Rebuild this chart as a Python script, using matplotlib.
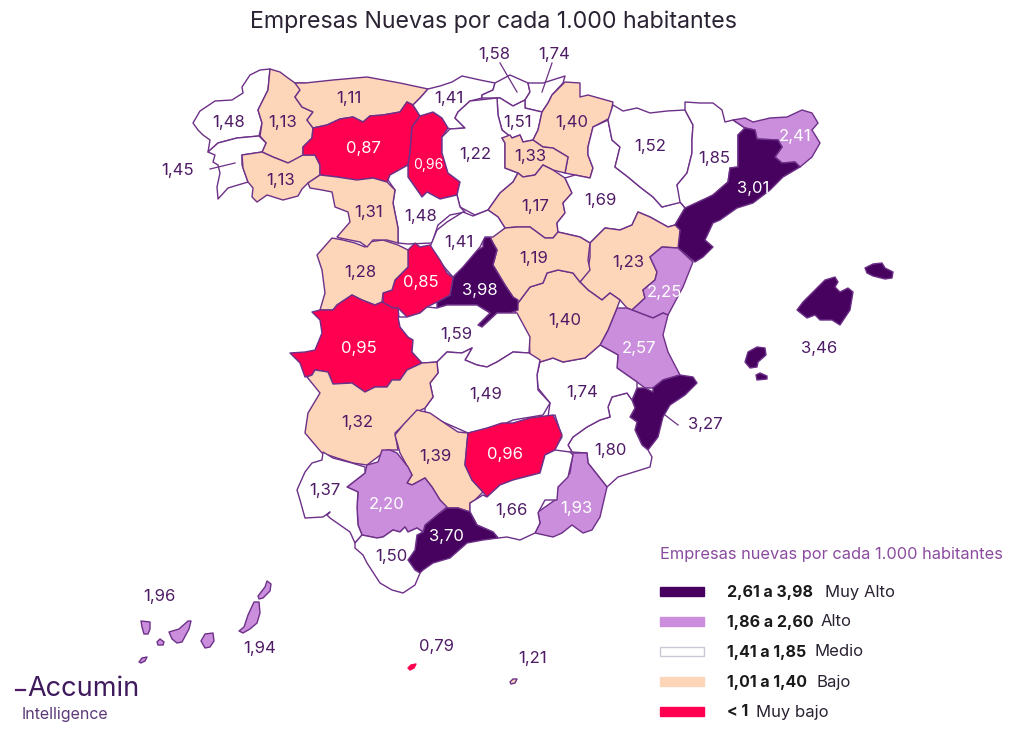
import matplotlib
matplotlib.use("Agg")
import matplotlib.pyplot as plt
from matplotlib.patches import Polygon, Rectangle

plt.rcParams["font.family"] = ["Inter", "DejaVu Sans"]

# Rates per province
provinces = ["Coruna", "Lugo", "Pontevedra", "Ourense", "Asturias", "Leon", "Palencia", "Cantabria",
             "Bizkaia", "Gipuzkoa", "Alava", "Navarra", "Burgos", "Rioja", "Soria", "Zaragoza",
             "Huesca", "Lleida", "Girona", "Barcelona", "Teruel", "Castellon", "Valencia", "Alicante",
             "Murcia", "Almeria", "Albacete", "Cuenca", "Guadalajara", "Madrid", "Valladolid", "Segovia",
             "Avila", "Salamanca", "Zamora", "Caceres", "Toledo", "CiudadReal", "Badajoz", "Cordoba",
             "Jaen", "Granada", "Malaga", "Sevilla", "Huelva", "Cadiz", "Baleares", "Tenerife",
             "LasPalmas", "Ceuta", "Melilla"]
values = [1.48, 1.13, 1.45, 1.13, 1.11, 0.87, 0.96, 1.41,
          1.58, 1.74, 1.51, 1.40, 1.22, 1.33, 1.17, 1.69,
          1.52, 1.85, 2.41, 3.01, 1.23, 2.25, 2.57, 3.27,
          1.80, 1.93, 1.74, 1.40, 1.19, 3.98, 1.48, 1.41,
          0.85, 1.28, 1.31, 0.95, 1.59, 1.49, 1.32, 1.39,
          0.96, 1.66, 3.70, 2.20, 1.37, 1.50, 3.46, 1.96,
          1.94, 0.79, 1.21]
label_x = [229, 283, 178, 281, 349, 363, 428, 449,
           494, 554, 518, 572, 475, 530, 535, 600,
           650, 714, 795, 753, 628, 664, 639, 705,
           610, 576, 582, 565, 534, 480, 421, 459,
           421, 360, 369, 359, 456, 486, 357, 435,
           505, 511, 446, 387, 325, 391, 819, 159,
           260, 437, 533]
label_y = [122, 122, 171, 180, 98, 148, 165, 98,
           54, 54, 122, 123, 155, 156, 206, 201,
           147, 159, 136, 188, 262, 293, 348, 425,
           450, 509, 392, 321, 258, 290, 216, 243,
           282, 273, 212, 348, 335, 394, 423, 457,
           455, 510, 537, 505, 490, 557, 348, 597,
           648, 647, 658]
# labels that sit off their shape stay dark
outside_labels = ["Pontevedra", "Bizkaia", "Gipuzkoa", "Alicante", "Baleares", "Tenerife", "LasPalmas",
                  "Ceuta", "Melilla"]
small_labels = ["Palencia"]
# drawn white in the reference although the rate falls in the Bajo range
white_overrides = ["Burgos", "Huelva"]

# Traced outlines, one list of rings per province
outlines = {
    "Coruna": [[(270,69),(260,70),(250,75),(242,87),(243,93),(232,100),(215,101),(200,111),(193,123),(198,130),(203,135),(210,140),(208,152),(218,143),(237,138),(259,136),(262,123),(258,110),(268,90)]],
    "Lugo": [[(270,69),(280,72),(288,78),(295,83),(305,83),(300,90),(295,97),(302,107),(313,112),(307,120),(313,128),(312,138),(303,147),(303,155),(295,160),(288,163),(273,157),(262,152),(266,143),(260,136),(262,123),(258,110),(268,90)]],
    "Pontevedra": [[(259,136),(237,138),(218,143),(208,152),(215,155),(213,162),(218,165),(220,173),(217,187),(218,199),(228,188),(248,182),(242,165),(242,155),(262,152),(266,143)]],
    "Ourense": [[(242,155),(262,152),(273,157),(288,163),(303,155),(315,155),(320,165),(320,175),(308,183),(302,189),(298,196),(283,200),(267,195),(257,202),(252,197),(253,188),(248,182),(243,168)]],
    "Asturias": [[(295,83),(305,83),(333,80),(367,77),(400,83),(428,89),(420,98),(413,105),(407,102),(400,112),(383,115),(370,116),(363,122),(353,117),(340,119),(327,125),(313,128),(307,120),(313,112),(302,107),(295,97),(300,90)]],
    "Leon": [[(313,128),(327,125),(340,119),(353,117),(363,122),(370,116),(383,115),(400,112),(407,102),(413,105),(420,116),(412,127),(410,153),(408,165),(390,175),(387,182),(373,178),(357,180),(337,177),(320,175),(320,165),(315,155),(303,155),(303,147),(312,138)]],
    "Palencia": [[(420,116),(433,112),(442,118),(448,128),(442,137),(442,153),(448,173),(460,182),(457,195),(440,199),(427,192),(422,197),(408,177),(408,165),(410,153),(412,127)]],
    "Cantabria": [[(428,89),(440,86),(452,82),(462,76),(480,80),(495,83),(493,90),(482,95),(482,98),(470,101),(458,112),(455,118),(465,128),(450,129),(448,128),(442,118),(433,112),(420,116),(413,105),(420,98)]],
    "Bizkaia": [[(495,83),(510,75),(528,83),(530,92),(525,100),(513,106),(500,98),(482,98),(482,95),(493,90)]],
    "Gipuzkoa": [[(528,83),(543,83),(565,76),(563,83),(552,95),(548,103),(542,112),(525,108),(525,100),(530,92)]],
    "Alava": [[(497,98),(500,98),(513,106),(525,100),(525,108),(542,112),(538,130),(533,140),(523,142),(520,135),(512,138),(502,130),(498,115)]],
    "Navarra": [[(565,82),(580,83),(580,97),(588,95),(613,102),(610,118),(593,127),(588,147),(588,155),(593,168),(590,178),(575,175),(565,173),(568,157),(553,148),(543,147),(533,140),(538,130),(542,112),(548,103),(552,95)]],
    "Burgos": [[(497,98),(470,101),(458,112),(455,118),(465,128),(450,129),(442,137),(442,153),(448,173),(460,182),(457,195),(460,207),(475,215),(488,210),(500,193),(513,182),(518,173),(505,168),(505,143),(502,138),(512,138),(502,130),(498,115)]],
    "Rioja": [[(502,138),(510,135),(512,138),(520,135),(523,142),(533,140),(543,147),(553,148),(568,157),(565,173),(553,170),(543,165),(535,175),(523,177),(518,173),(505,168),(505,143)]],
    "Soria": [[(518,173),(523,177),(535,175),(543,165),(553,170),(565,178),(572,193),(563,203),(565,213),(557,223),(558,232),(553,238),(545,238),(530,227),(517,227),(505,228),(498,217),(488,210),(500,193),(513,182)]],
    "Zaragoza": [[(608,120),(612,140),(620,147),(615,167),(628,177),(640,187),(653,197),(662,207),(680,202),(685,208),(675,225),(668,227),(650,217),(638,212),(632,225),(620,230),(605,228),(590,243),(580,237),(558,232),(557,223),(565,213),(563,203),(572,193),(565,178),(575,175),(590,178),(593,168),(588,155),(588,147),(593,127)]],
    "Huesca": [[(613,105),(623,111),(637,108),(650,113),(667,111),(685,110),(693,125),(692,140),(692,153),(687,173),(677,185),(682,202),(662,207),(653,197),(640,187),(628,177),(615,167),(620,147),(612,140),(608,120)]],
    "Lleida": [[(685,102),(700,103),(713,103),(722,110),(725,122),(733,120),(745,128),(738,135),(738,147),(738,167),(730,168),(728,182),(713,195),(687,210),(680,202),(677,185),(687,173),(692,153),(692,140),(693,125),(685,110)]],
    "Girona": [[(733,120),(745,118),(753,122),(770,118),(787,117),(802,110),(812,113),(818,123),(812,130),(820,143),(812,157),(800,167),(795,162),(782,163),(775,157),(782,147),(778,140),(757,139),(755,130),(745,128)]],
    "Barcelona": [[(745,128),(755,130),(757,139),(778,140),(782,147),(775,157),(782,163),(795,162),(800,167),(783,177),(770,190),(753,203),(737,208),(720,220),(713,223),(705,240),(713,247),(703,257),(695,262),(677,247),(680,230),(675,225),(685,208),(713,195),(728,182),(730,168),(738,167),(738,135)]],
    "Teruel": [[(590,243),(605,228),(620,230),(632,225),(638,212),(650,217),(668,227),(675,225),(680,230),(678,248),(662,247),(650,257),(657,272),(655,280),(643,290),(645,298),(632,310),(627,308),(620,300),(610,293),(602,300),(588,290),(580,282),(588,270),(590,257)]],
    "Castellon": [[(662,247),(678,248),(693,262),(683,287),(668,315),(663,313),(653,318),(645,315),(632,310),(645,298),(643,290),(655,280),(657,272),(650,257)]],
    "Valencia": [[(632,310),(645,315),(653,318),(663,313),(668,315),(663,335),(668,352),(680,375),(663,380),(653,388),(645,388),(637,382),(617,368),(618,355),(600,345),(608,330),(617,308),(627,308)]],
    "Alicante": [[(680,375),(693,377),(697,383),(685,395),(670,405),(663,417),(658,437),(648,450),(642,445),(635,430),(637,422),(630,417),(635,408),(632,400),(637,388),(645,388),(653,392),(653,388),(663,380)]],
    "Murcia": [[(632,400),(627,393),(612,397),(608,407),(610,417),(600,420),(587,427),(573,437),(568,445),(572,452),(587,453),(588,463),(607,487),(618,477),(650,467),(652,457),(648,450),(642,445),(635,430),(637,422),(630,417),(635,408)]],
    "Almeria": [[(573,453),(587,453),(588,463),(607,487),(600,517),(592,530),(583,533),(572,525),(562,533),(553,537),(535,533),(540,523),(538,512),(555,500),(558,487),(570,473)]],
    "Albacete": [[(540,362),(553,358),(563,362),(585,358),(600,345),(618,355),(617,368),(637,382),(637,388),(632,400),(627,393),(612,397),(608,407),(610,417),(600,420),(587,427),(573,437),(568,445),(572,452),(553,452),(562,437),(555,415),(548,417),(550,403),(538,388),(537,375)]],
    "Cuenca": [[(518,303),(530,287),(543,283),(547,273),(558,270),(573,273),(580,282),(588,290),(602,300),(610,293),(620,300),(617,308),(608,330),(600,345),(585,358),(563,362),(553,358),(540,362),(530,355),(529,337),(515,312)]],
    "Guadalajara": [[(490,237),(505,228),(517,227),(530,227),(545,238),(553,238),(558,232),(580,237),(590,243),(588,260),(590,270),(580,282),(573,273),(558,270),(547,273),(543,283),(530,287),(518,303),(513,297),(505,285),(493,265),(497,250),(493,243)]],
    "Madrid": [[(483,238),(490,237),(493,243),(497,250),(493,265),(505,285),(513,297),(518,300),(518,310),(510,313),(497,313),(482,327),(478,325),(490,313),(477,305),(460,305),(447,305),(437,308),(437,302),(450,295),(453,278),(472,253),(483,247)]],
    "Valladolid": [[(390,175),(408,165),(408,177),(422,197),(427,192),(440,199),(457,195),(460,207),(465,212),(450,215),(438,225),(432,243),(408,244),(398,243),(398,228),(393,203),(395,190),(388,180)]],
    "Segovia": [[(488,210),(498,217),(505,228),(493,237),(485,237),(480,247),(463,267),(453,277),(445,268),(430,247),(437,230),(447,222),(463,212),(473,216)]],
    "Avila": [[(408,250),(415,243),(420,247),(430,245),(440,260),(447,273),(453,278),(450,295),(437,302),(427,307),(420,313),(407,317),(398,308),(393,308),(383,303),(383,293),(392,290),(395,280),(408,267)]],
    "Salamanca": [[(332,238),(343,240),(355,243),(365,247),(368,242),(383,240),(398,245),(408,250),(408,267),(395,280),(392,290),(383,293),(382,302),(375,305),(362,300),(352,295),(337,305),(333,310),(320,310),(325,293),(322,270),(317,255)]],
    "Zamora": [[(308,183),(320,175),(337,177),(357,180),(373,178),(387,182),(395,190),(393,203),(398,228),(398,243),(387,240),(373,240),(367,247),(360,242),(340,238),(337,237),(350,222),(348,212),(335,207),(332,192),(322,190),(310,188)]],
    "Caceres": [[(312,312),(320,310),(333,310),(337,305),(352,295),(362,300),(375,305),(382,302),(393,308),(398,308),(400,327),(408,337),(413,340),(412,352),(422,363),(407,370),(400,380),(392,380),(387,387),(375,387),(365,392),(352,383),(333,384),(328,372),(315,370),(312,375),(305,377),(300,363),(290,353),(305,352),(315,350),(322,333),(320,320)]],
    "Toledo": [[(398,317),(407,317),(420,313),(427,307),(437,308),(447,305),(460,305),(477,305),(490,313),(478,325),(482,327),(497,313),(510,313),(517,313),(530,337),(529,353),(513,352),(497,362),(487,367),(477,365),(465,360),(472,348),(462,353),(447,352),(437,362),(425,363),(422,363),(412,352),(413,340),(408,337),(400,327)]],
    "CiudadReal": [[(437,362),(447,352),(462,353),(472,348),(465,360),(477,365),(487,367),(497,362),(513,352),(529,353),(540,360),(537,375),(538,390),(550,403),(543,415),(513,420),(497,427),(468,433),(443,422),(425,412),(425,408),(433,397),(430,383),(438,373)]],
    "Badajoz": [[(312,375),(315,370),(328,372),(333,384),(352,383),(365,392),(375,387),(387,387),(392,380),(400,380),(407,370),(422,363),(437,362),(438,373),(430,383),(433,397),(425,408),(417,412),(395,433),(398,450),(387,450),(367,465),(353,463),(337,458),(322,453),(305,433),(308,413),(320,393),(307,377)]],
    "Cordoba": [[(417,410),(430,413),(443,422),(458,432),(468,433),(467,443),(465,465),(472,480),(483,492),(475,500),(470,503),(470,512),(458,508),(447,508),(440,500),(432,487),(425,478),(412,485),(407,483),(412,475),(400,453),(395,435),(403,425)]],
    "Jaen": [[(468,433),(487,428),(502,423),(513,423),(530,418),(553,415),(557,423),(562,435),(555,450),(545,455),(540,473),(513,480),(500,485),(487,497),(483,492),(472,480),(465,465),(467,443)]],
    "Granada": [[(487,497),(500,485),(513,480),(540,473),(545,455),(555,450),(570,452),(573,455),(570,468),(568,477),(558,487),(557,500),(545,500),(538,513),(540,523),(535,533),(520,540),(507,537),(498,538),(493,532),(477,525),(470,512),(470,503),(475,500),(483,495)]],
    "Malaga": [[(447,508),(458,508),(470,512),(477,525),(493,532),(498,538),(483,540),(467,543),(450,558),(433,563),(423,570),(420,573),(415,570),(408,560),(415,550),(417,535),(423,532),(425,525),(437,515)]],
    "Sevilla": [[(382,450),(390,450),(397,453),(408,467),(412,475),(407,483),(412,485),(425,478),(432,487),(440,500),(447,507),(437,515),(425,525),(423,532),(417,528),(408,532),(405,527),(400,532),(393,530),(383,537),(377,538),(362,535),(358,525),(357,507),(358,492),(347,487),(365,473),(367,465),(378,462)]],
    "Huelva": [[(323,452),(333,458),(352,463),(365,467),(365,473),(347,487),(358,492),(357,507),(358,525),(362,535),(355,543),(350,532),(330,518),(327,515),(330,512),(323,517),(305,518),(300,500),(297,490),(305,472),(312,463),(322,460)]],
    "Cadiz": [[(362,535),(377,538),(383,537),(393,530),(400,532),(405,527),(408,532),(417,528),(423,532),(417,535),(415,550),(408,560),(415,570),(420,573),(415,585),(403,593),(392,590),(380,583),(367,563),(363,555),(355,548),(355,543)]],
    "Baleares": [[(797,310),(803,302),(815,290),(825,280),(835,277),(838,282),(835,287),(840,292),(848,288),(853,292),(850,310),(840,325),(832,320),(820,320),(815,315),(807,318)],
                 [(865,268),(873,264),(882,263),(885,268),(893,272),(892,278),(885,279),(873,276),(867,273)],
                 [(745,362),(748,352),(757,347),(765,348),(766,355),(758,362),(757,367),(750,368)],
                 [(756,375),(760,373),(767,376),(767,379),(757,380)]],
    "Tenerife": [[(141,621),(150,622),(150,629),(148,634),(144,634),(142,627)],
                 [(157,642),(160,639),(164,642),(163,645),(158,645)],
                 [(139,662),(142,658),(147,657),(145,661),(141,663)],
                 [(169,632),(179,629),(188,621),(191,621),(189,629),(182,642),(177,643),(172,639)]],
    "LasPalmas": [[(201,641),(205,634),(213,633),(214,641),(210,647),(205,648)],
                  [(239,631),(244,627),(248,615),(254,602),(259,602),(260,613),(257,623),(250,629),(243,633)],
                  [(258,596),(265,587),(267,581),(271,584),(270,591),(263,598),(259,599)]],
    "Ceuta": [[(408,668),(411,665),(416,664),(414,668),(410,670)]],
    "Melilla": [[(510,682),(513,679),(517,679),(515,683),(511,684)]],
}

# Leader lines from outside labels to their shapes
leader_lines = [((210, 169), (235, 163)), ((500, 63), (517, 92)), ((552, 63), (542, 92)), ((665, 415), (678, 425))]

legend_ranges = ["2,61 a 3,98", "1,86 a 2,60", "1,41 a 1,85", "1,01 a 1,40", "< 1"]
legend_names = ["Muy Alto", "Alto", "Medio", "Bajo", "Muy bajo"]
legend_name_x = [825, 821, 815, 816, 756]
legend_y = [592, 622, 652, 682, 712]

DARK = "#46025e"
LILAC = "#cb8edc"
PEACH = "#fdd5b8"
PINK = "#ff0050"
EDGE = "#6d3088"
TEXT = "#4f1b66"
legend_colors = [DARK, LILAC, "white", PEACH, PINK]


def class_color(v):
    if v >= 2.61:
        return DARK
    if v >= 1.86:
        return LILAC
    if v >= 1.41:
        return "white"
    if v >= 1.01:
        return PEACH
    return PINK


fig = plt.figure(figsize=(10.24, 7.32), dpi=100)
ax = fig.add_axes([0, 0, 1, 1])
ax.set_xlim(0, 1024)
ax.set_ylim(732, 0)
ax.axis("off")

for name, v in zip(provinces, values):
    fill = "white" if name in white_overrides else class_color(v)
    edge = fill if name == "Ceuta" else EDGE
    for ring in outlines[name]:
        ax.add_patch(Polygon(ring, closed=True, facecolor=fill, edgecolor=edge,
                             linewidth=1.0, joinstyle="round"))

for start, end in leader_lines:
    ax.plot([start[0], end[0]], [start[1], end[1]], color=EDGE, linewidth=0.9)

for name, v, x, y in zip(provinces, values, label_x, label_y):
    color = TEXT
    if name not in outside_labels and name not in white_overrides and class_color(v) in (DARK, LILAC, PINK):
        color = "white"
    size = 10 if name in small_labels else 12
    ax.text(x, y, f"{v:.2f}".replace(".", ","), color=color, fontsize=size, ha="center", va="center")

ax.text(493, 22, "Empresas Nuevas por cada 1.000 habitantes", color="#2b2233", fontsize=16.7,
        ha="center", va="center")

# Legend
ax.text(660, 555, "Empresas nuevas por cada 1.000 habitantes", color="#8a4b9e", fontsize=11.8, va="center")
for rng, label, nx, y, c in zip(legend_ranges, legend_names, legend_name_x, legend_y, legend_colors):
    edge = "#c9c9d6" if c == "white" else c
    ax.add_patch(Rectangle((659.5, y - 5.5), 44, 9, facecolor=c, edgecolor=edge, linewidth=1))
    ax.text(727, y, rng, color="#1a1a1a", fontsize=11.5, fontweight="bold", va="center")
    ax.text(nx, y, label, color="#2b2233", fontsize=12, va="center")

# Logo
ax.plot([16, 25], [690, 690], color=TEXT, linewidth=1.6)
ax.text(27, 689, "Accumin", color="#3f1a5c", fontsize=19.5, va="center")
ax.text(22, 715, "Intelligence", color="#5c3a78", fontsize=11.5, va="center")

fig.savefig("out.png", dpi=100)
